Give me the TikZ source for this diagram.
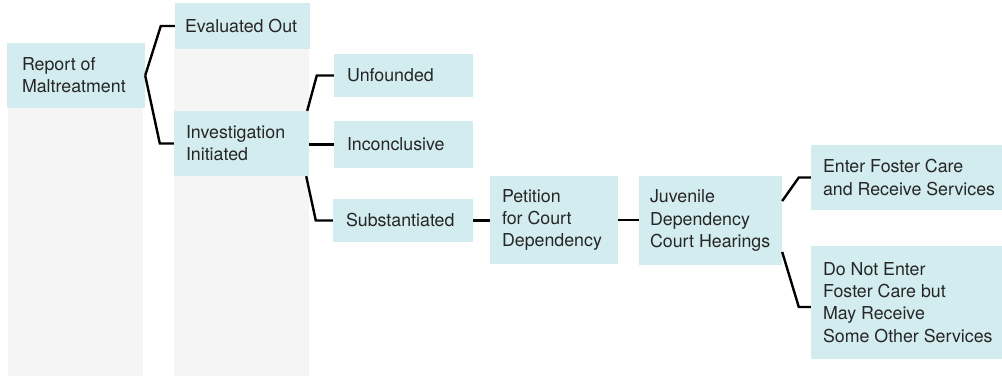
\documentclass[tikz,border=0pt]{standalone}
\usepackage{fontspec}
\setmainfont{TeX Gyre Heros}
\definecolor{boxc}{HTML}{D3ECEF}
\definecolor{colgray}{HTML}{F5F5F5}
\definecolor{txtc}{HTML}{262626}
\tikzset{
  boxnode/.style 2 args={fill=boxc, draw=none, inner sep=0pt, minimum width=#1, minimum height=#2},
  txt/.style={anchor=west, align=left, inner sep=0pt, text=txtc, font=\fontsize{17.8}{22.2}\selectfont},
  conn/.style={draw=black, line width=2.4pt, line join=miter}
}
\begin{document}
\begin{tikzpicture}[x=1pt,y=-1pt]
\useasboundingbox (0,0) rectangle (1002,376);
% gray columns
\fill[colgray] (8,108) rectangle (143,376);
\fill[colgray] (174,49) rectangle (309,376);
% boxes
\node[boxnode={138pt}{65pt}] (rep) at (76,75.5) {};
\node[boxnode={135pt}{46pt}] (evo) at (242.5,26) {};
\node[boxnode={135pt}{65pt}] (inv) at (241.5,143.5) {};
\node[boxnode={139pt}{43pt}] (unf) at (403.5,75.5) {};
\node[boxnode={139pt}{47pt}] (inc) at (403.5,144.5) {};
\node[boxnode={140pt}{43pt}] (sub) at (403,220.5) {};
\node[boxnode={128pt}{88pt}] (pet) at (554,220) {};
\node[boxnode={143pt}{89pt}] (juv) at (710.5,220.5) {};
\node[boxnode={192pt}{65pt}] (ent) at (907,177.5) {};
\node[boxnode={192pt}{113pt}] (dne) at (907,302.5) {};
% texts
\node[txt] (trep) at ([xshift=15pt]rep.west) {Report of\\Maltreatment};
\node[txt] (tevo) at ([xshift=10pt]evo.west) {Evaluated Out};
\node[txt] (tinv) at ([xshift=12pt]inv.west) {Investigation\\Initiated};
\node[txt] (tunf) at ([xshift=13pt]unf.west) {Unfounded};
\node[txt] (tinc) at ([xshift=13pt]inc.west) {Inconclusive};
\node[txt] (tsub) at ([xshift=13pt]sub.west) {Substantiated};
\node[txt] (tpet) at ([xshift=12pt]pet.west) {Petition\\for Court\\Dependency};
\node[txt] (tjuv) at ([xshift=11pt]juv.west) {Juvenile\\Dependency\\Court Hearings};
\node[txt] (tent) at ([xshift=12pt]ent.west) {Enter Foster Care\\and Receive Services};
\node[txt] (tdne) at ([xshift=12pt]dne.west) {Do Not Enter\\Foster Care but\\May Receive\\Some Other Services};
% connectors
\draw[conn] (evo.west) -- ++(-14,0) -- (rep.east);
\draw[conn] (inv.west) -- ++(-14,0) -- (rep.east);
\draw[conn] (unf.west) -- ++(-17,0) -- ([xshift=-2pt]inv.north east);
\draw[conn] (inv.east |- inc.west) -- (inc.west);
\draw[conn] (sub.west) -- ++(-17,0) -- ([xshift=-3pt]inv.south east);
\draw[conn] (sub.east) -- (sub.east -| pet.west);
\draw[conn] (pet.east) -- (pet.east -| juv.west);
\draw[conn] (ent.west) -- ++(-12,0) -- ([yshift=19.5pt]juv.east);
\draw[conn] ([yshift=-4.5pt]dne.west) -- ++(-12,0) -- ([yshift=-31.5pt]juv.east);
\end{tikzpicture}
\end{document}
